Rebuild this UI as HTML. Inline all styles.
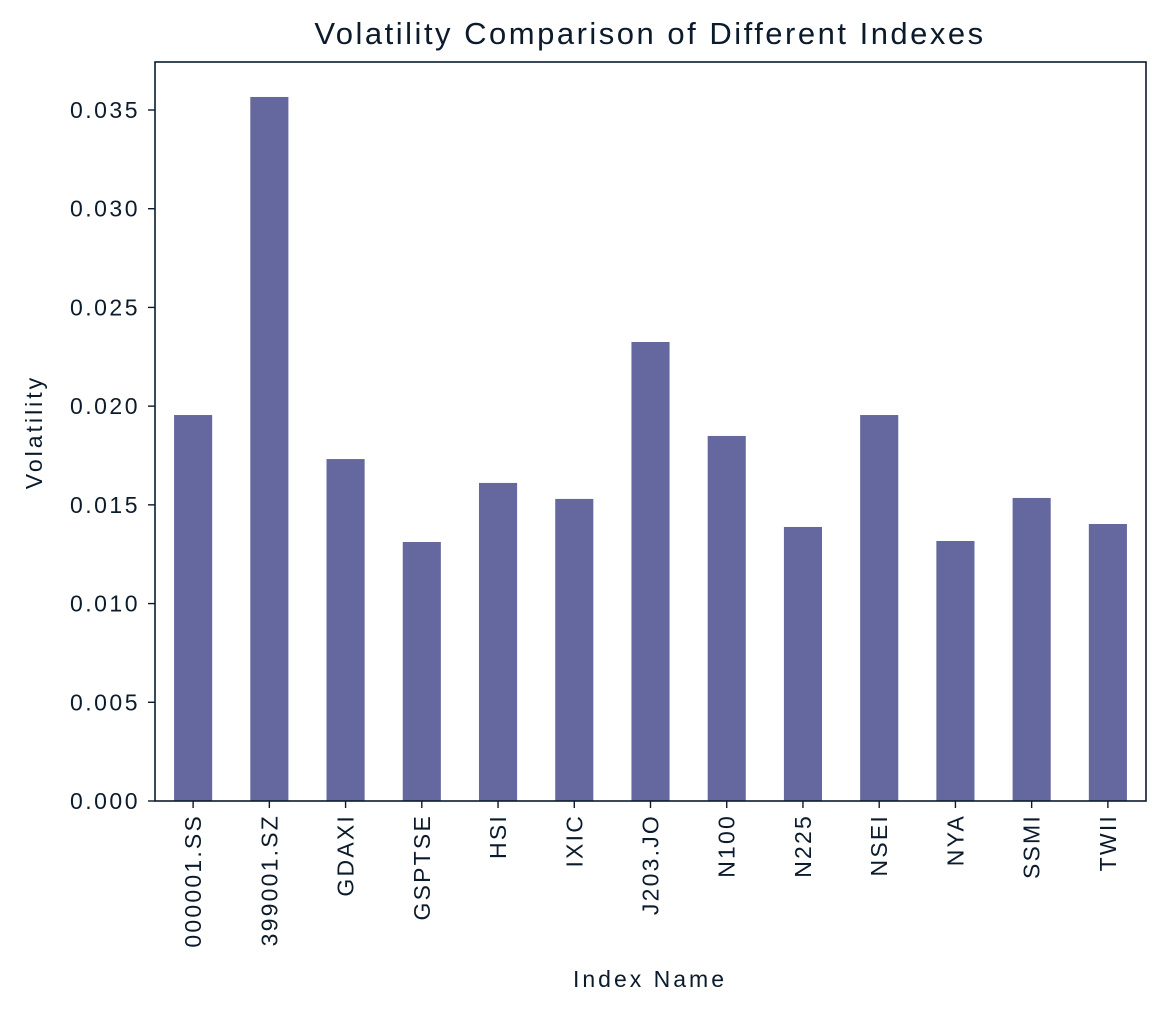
<!DOCTYPE html>
<html><head><meta charset="utf-8"><style>
body{margin:0;background:#fff;}
svg{display:block;font-family:"Liberation Sans",sans-serif;fill:#0b1b2c;}
</style></head><body>
<svg id="chart" width="1166" height="1015" viewBox="0 0 1166 1015" xmlns="http://www.w3.org/2000/svg">
<text x="650" y="44" text-anchor="middle" font-size="31" letter-spacing="2.5">Volatility Comparison of Different Indexes</text>
<text x="650" y="987" text-anchor="middle" font-size="23" letter-spacing="3">Index Name</text>
<text transform="translate(42,432) rotate(-90)" text-anchor="middle" font-size="23" letter-spacing="3">Volatility</text>
<g id="bars"></g><g id="xticks"></g><g id="yticks"></g>
<rect x="155" y="62" width="991" height="739" fill="none" stroke="#0b1b2c" stroke-width="1.6"/>
</svg>
<script>
const categories=["000001.SS","399001.SZ","GDAXI","GSPTSE","HSI","IXIC","J203.JO","N100","N225","NSEI","NYA","SSMI","TWII"];
const volatility=[0.01955,0.03566,0.01732,0.01312,0.01611,0.01530,0.02325,0.01849,0.01388,0.01955,0.01317,0.01535,0.01403];
const yTicks=[0,0.005,0.010,0.015,0.020,0.025,0.030,0.035];
const yTickLabels=["0.000","0.005","0.010","0.015","0.020","0.025","0.030","0.035"];
const L=155,R=1146,B=801,T=62;
const y=v=>B-v*(691/0.035);
const step=(R-L)/categories.length;
const x=i=>L+step*(i+0.5);
const ns="http://www.w3.org/2000/svg";
const mk=(t,a,p)=>{const e=document.createElementNS(ns,t);for(const k in a)e.setAttribute(k,a[k]);p.appendChild(e);return e;};
const bars=document.getElementById('bars'),xt=document.getElementById('xticks'),yt=document.getElementById('yticks');
categories.forEach((c,i)=>{
 const r=mk('rect',{x:x(i)-step/4,y:y(volatility[i]),width:step/2,height:B-y(volatility[i]),fill:'#65689f'},bars);
 
 
 const tk=mk('line',{x1:x(i),x2:x(i),y1:B,y2:B+7,stroke:'#0b1b2c','stroke-width':1.4},xt);
 
 
 const t=mk('text',{transform:`translate(${x(i)+8},${B+13}) rotate(-90)`,'text-anchor':'end','font-size':23,'letter-spacing':2.2},xt);
 t.textContent=c;
 
 
});
yTicks.forEach((v,i)=>{
 const tk=mk('line',{x1:L-7,x2:L,y1:y(v),y2:y(v),stroke:'#0b1b2c','stroke-width':1.4},yt);
 
 
 const t=mk('text',{x:L-15,y:y(v)+8,'text-anchor':'end','font-size':23,'letter-spacing':2.5},yt);
 t.textContent=yTickLabels[i];
 
 
});
</script>
</body></html>
